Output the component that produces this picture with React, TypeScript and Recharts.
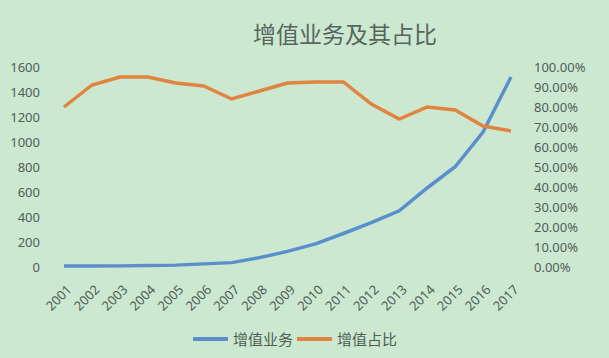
import React from "react";
import { LineChart, Line, XAxis, YAxis, Legend } from "recharts";

const years = ["2001","2002","2003","2004","2005","2006","2007","2008","2009","2010","2011","2012","2013","2014","2015","2016","2017"];
const valueAdded = [8, 8, 9, 12, 15, 25, 35, 75, 125, 185, 268, 355, 450, 632, 802, 1080, 1520];
const share = [0.80, 0.91, 0.95, 0.95, 0.92, 0.905, 0.84, 0.88, 0.92, 0.925, 0.925, 0.815, 0.74, 0.80, 0.785, 0.705, 0.68];
const leftTicks = [0, 200, 400, 600, 800, 1000, 1200, 1400, 1600];
const rightTicks = [0, 0.1, 0.2, 0.3, 0.4, 0.5, 0.6, 0.7, 0.8, 0.9, 1.0];

const data = years.map((y, i) => ({ year: y, a: valueAdded[i], b: share[i] }));

const BG = "#cce8d1";
const TEXT = "#4f5f55";
const BLUE = "#5b8fcb";
const ORANGE = "#e0843f";

const XTick = (props: any) => {
  const { x, y, payload } = props;
  const tx = x + 5;
  const ty = y + 12;
  return (
    <text
      x={tx}
      y={ty}
      transform={`rotate(-45 ${tx} ${ty})`}
      textAnchor="end"
      dominantBaseline="central"
      fontSize={13}
      fill={TEXT}
      fontFamily="Noto Sans"
    >
      {payload.value}
    </text>
  );
};

const LegendContent = (props: any) => {
  const { payload } = props;
  return (
    <div style={{ display: "flex", justifyContent: "center", alignItems: "center", fontFamily: "Noto Sans CJK SC", fontSize: 15, color: TEXT }}>
      {payload.map((p: any) => (
        <div key={p.value} style={{ display: "flex", alignItems: "center", marginRight: 4 }}>
          <div style={{ width: 35, height: 4, background: p.color, marginRight: 5 }} />
          <span>{p.value}</span>
        </div>
      ))}
    </div>
  );
};

export default function App() {
  return (
    <div style={{ position: "absolute", left: 0, top: 0, width: 609, height: 358, background: BG, overflow: "hidden" }}>
      <div style={{ position: "absolute", left: 0, top: 22, width: 690, textAlign: "center", fontFamily: "Noto Sans CJK SC", fontSize: 23, lineHeight: "23px", color: "#56665c" }}>
        增值业务及其占比
      </div>
      <LineChart width={609} height={358} data={data} margin={{ top: 67, right: 14, bottom: 0, left: 0 }}>
        <XAxis
          dataKey="year"
          padding={{ left: 14, right: 14 }}
          axisLine={false}
          tickLine={false}
          tick={<XTick />}
          interval={0}
          height={91}
        />
        <YAxis
          yAxisId="left"
          domain={[0, 1600]}
          ticks={leftTicks}
          axisLine={false}
          tickLine={false}
          tickSize={0}
          tickMargin={10}
          width={50}
          interval={0}
          tick={{ fill: TEXT, fontSize: 13, fontFamily: "Noto Sans" }}
        />
        <YAxis
          yAxisId="right"
          orientation="right"
          domain={[0, 1]}
          ticks={rightTicks}
          axisLine={false}
          tickLine={false}
          tickSize={0}
          tickMargin={9}
          width={70}
          interval={0}
          tickFormatter={(v: number) => (v * 100).toFixed(2) + "%"}
          tick={{ fill: TEXT, fontSize: 13, fontFamily: "Noto Sans", textAnchor: "start" }}
        />
        <Line yAxisId="left" type="linear" dataKey="a" name="增值业务" stroke={BLUE} strokeWidth={3.5} dot={false} isAnimationActive={false} />
        <Line yAxisId="right" type="linear" dataKey="b" name="增值占比" stroke={ORANGE} strokeWidth={3.5} dot={false} isAnimationActive={false} />
        <Legend content={<LegendContent />} wrapperStyle={{ position: "absolute", top: 328, left: 0, width: 594, height: 0, overflow: "visible" }} />
      </LineChart>
    </div>
  );
}
